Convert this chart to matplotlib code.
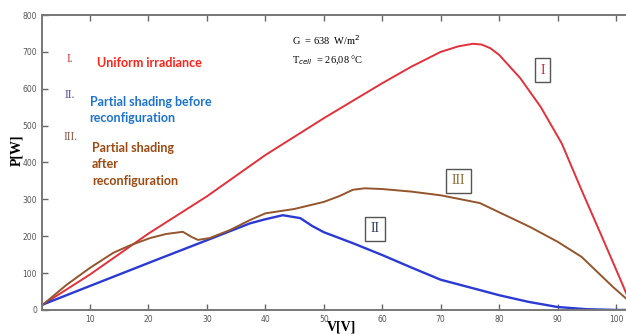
import matplotlib
matplotlib.use("Agg")
import matplotlib.pyplot as plt

# curve I: uniform irradiance
v_uniform = [2, 10, 20, 30, 40, 50, 60, 65, 70, 73, 75.5, 77, 78.5, 80, 83.6, 87.1, 90.7, 94.1, 97.6, 101, 102]
p_uniform = [15, 96, 207, 308, 420, 520, 615, 660, 700, 715, 722, 720, 710, 692, 629, 551, 452, 325, 198, 73, 35]

# curve II: partial shading before reconfiguration
v_before = [2, 10, 21.4, 30, 37.4, 40, 43, 46, 48, 50, 55, 60, 65, 70, 76.7, 80, 85, 90, 95, 100, 102]
p_before = [15, 65, 136, 189, 235, 246, 257, 249, 228, 211, 181, 149, 115, 82, 54, 40, 22, 8, 2, 0, 0]

# curve III: partial shading after reconfiguration
v_after = [2, 6, 10, 14, 17, 20.3, 23, 25.9, 27.4, 28.5, 30.5, 34, 37.4, 40, 45, 50, 52.7, 55, 57, 60, 65, 70,
           76.7, 80, 85.3, 90, 94.1, 99.5, 102]
p_after = [15, 68, 114, 155, 176, 195, 206, 212, 198, 190, 195, 217, 244, 262, 274, 293, 309, 326, 330, 328, 321, 311,
           290, 265, 225, 185, 144, 62, 27]

x_ticks = [10, 20, 30, 40, 50, 60, 70, 80, 90, 100]
y_ticks = [0, 100, 200, 300, 400, 500, 600, 700, 800]

fig = plt.figure(figsize=(6.26, 3.34), dpi=100)
ax = fig.add_axes([0.067, 0.072, 0.933, 0.883])

ax.plot(v_uniform, p_uniform, color="#e2313b", lw=1.4)
ax.plot(v_before, p_before, color="#2b3ad2", lw=1.7)
ax.plot(v_after, p_after, color="#94552c", lw=1.4)

ax.set_xlim(1.8, 101.7)
ax.set_ylim(0, 800)
ax.set_xticks(x_ticks)
ax.set_yticks(y_ticks)
ax.tick_params(direction="in", labelsize=5.5, labelcolor="#555555", color="#666666",
               length=4, width=1, top=True, labeltop=False)
for side in ["left", "bottom", "top"]:
    ax.spines[side].set_color("#777777")
    ax.spines[side].set_linewidth(1.4)
ax.spines["right"].set_visible(False)

serif = "Liberation Serif"
fig.text(0.027, 0.55, "P[W]", rotation=90, family=serif, weight="bold", fontsize=10, ha="center", va="center")
fig.text(0.545, 0.039, "V[V]", family=serif, weight="bold", fontsize=10, ha="center", va="top")

# parameters
ax.text(0.428, 0.915, "G  = 638  W/m$^2$", transform=ax.transAxes, family=serif, fontsize=7.5, va="center")
ax.text(0.428, 0.847, "T$_{cell}$  = 26,08 °C", transform=ax.transAxes, family=serif, fontsize=7.5, va="center")

# legend-like labels
fig.text(0.106, 0.823, "I.", color="#c9343a", family=serif, fontsize=8.5, va="center")
fig.text(0.155, 0.81, "Uniform irradiance", color="#ff2218", family="Lato", weight="bold", fontsize=9, va="center")
fig.text(0.104, 0.715, "II.", color="#4a4aa0", family=serif, fontsize=8.5, va="center")
fig.text(0.143, 0.67, "Partial shading before\nreconfiguration", color="#1b72cf", family="Lato",
         weight="bold", fontsize=9, va="center", linespacing=1.35)
fig.text(0.102, 0.59, "III.", color="#8a5a4a", family=serif, fontsize=8.5, va="center")
fig.text(0.147, 0.508, "Partial shading\nafter\nreconfiguration", color="#9a4a12", family="Lato",
         weight="bold", fontsize=9, va="center", linespacing=1.45)

# curve tags
box = dict(boxstyle="square,pad=0.4", fc="white", ec="#555555", lw=1)
ax.text(87.4, 650, "I", color="#d02030", family=serif, fontsize=10, ha="center", va="center", bbox=box)
ax.text(73.0, 350, "III", color="#8a6a30", family=serif, fontsize=10, ha="center", va="center", bbox=box)
ax.text(58.7, 220, "II", color="#2a3a5a", family=serif, fontsize=10, ha="center", va="center", bbox=box)

fig.savefig("out.png", dpi=100)
